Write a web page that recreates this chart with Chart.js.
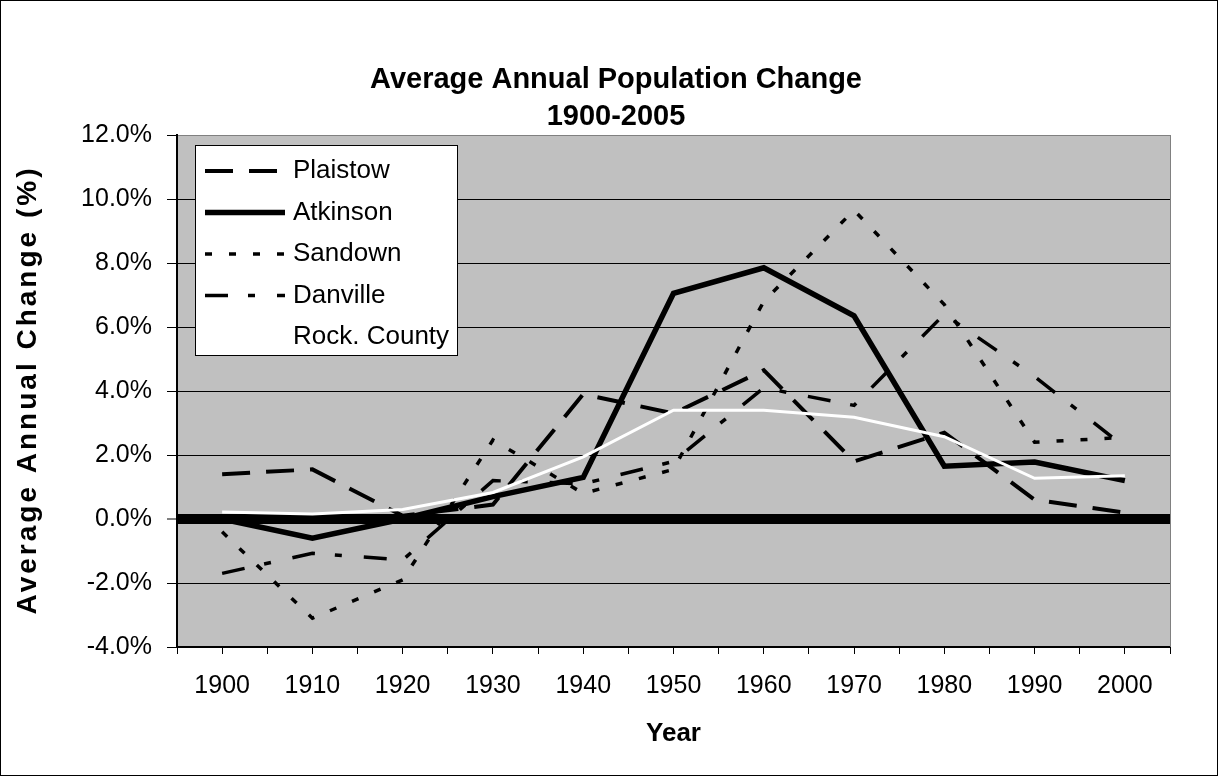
<!DOCTYPE html>
<html>
<head>
<meta charset="utf-8">
<script src="https://cdn.jsdelivr.net/npm/chart.js@4.4.1/dist/chart.umd.min.js"></script>
<style>
  html, body { margin: 0; padding: 0; background: #fff; }
  #wrap { width: 1216px; height: 774px; border: 1px solid #000; }
  canvas { display: block; }
</style>
</head>
<body>
<div id="wrap"><canvas id="chart" width="1216" height="774"></canvas></div>
<script>
// values, in percent
const years = [1900, 1910, 1920, 1930, 1940, 1950, 1960, 1970, 1980, 1990, 2000];
const plaistow = [1.4, 1.55, 0.1, 0.45, 3.9, 3.3, 4.65, 1.8, 2.7, 0.6, 0.2];
const atkinson = [0.0, -0.6, 0.0, 0.7, 1.3, 7.05, 7.85, 6.35, 1.65, 1.78, 1.2];
const sandown = [-0.4, -3.1, -1.9, 2.47, 0.8, 1.55, 6.8, 9.65, 6.7, 2.4, 2.55];
const danville = [-1.7, -1.07, -1.28, 1.2, 1.1, 1.8, 4.1, 3.55, 6.4, 4.45, 2.25];
const rockCounty = [0.22, 0.16, 0.3, 0.83, 1.94, 3.4, 3.4, 3.18, 2.57, 1.27, 1.35];

const yTicks = [-4, -2, 0, 2, 4, 6, 8, 10, 12];

const titleLines = ['Average Annual Population Change', '1900-2005'];
const yTitleText = 'Average Annual Change (%)';

const FONT = '"Liberation Sans", Arial, sans-serif';
Chart.defaults.font.family = FONT;
Chart.defaults.color = '#000';

function pts(vals) {
    return years.map((yr, i) => ({x: yr, y: vals[i]}));
}

// gray plot area + gray frame on the right
const plotBg = {
    id: 'plotBg',
    beforeDraw(chart) {
        const {ctx, chartArea: a} = chart;
        ctx.save();
        ctx.fillStyle = '#c0c0c0';
        ctx.fillRect(a.left, a.top, a.right - a.left, a.bottom - a.top);
        ctx.restore();
    },
    beforeDatasetsDraw(chart) {
        const {ctx, chartArea: a} = chart;
        ctx.save();
        ctx.strokeStyle = '#808080';
        ctx.lineWidth = 1;
        ctx.beginPath();
        ctx.moveTo(a.right + 0.5, a.top);
        ctx.lineTo(a.right + 0.5, a.bottom);
        ctx.stroke();
        ctx.restore();
    }
};

// chart title (centred on the whole picture) and the y axis title
const titles = {
    id: 'titles',
    afterDraw(chart) {
        const {ctx, chartArea: a} = chart;
        ctx.save();
        ctx.fillStyle = '#000';
        ctx.textAlign = 'center';
        ctx.textBaseline = 'middle';
        ctx.font = 'bold 29px ' + FONT;
        titleLines.forEach((t, i) => ctx.fillText(t, 615, 79 + i * 37));

        ctx.translate(27, (a.top + a.bottom) / 2);
        ctx.rotate(-Math.PI / 2);
        ctx.font = 'bold 28px ' + FONT;
        ctx.letterSpacing = '3px';
        ctx.fillText(yTitleText, 1, 0);
        ctx.restore();
    }
};

// legend box sitting inside the plot, top left
const boxLegend = {
    id: 'boxLegend',
    afterDraw(chart) {
        const {ctx, chartArea: a} = chart;
        const x = a.left + 18, y = a.top + 10, w = 262, h = 210;
        ctx.save();
        ctx.fillStyle = '#fff';
        ctx.fillRect(x, y, w, h);
        ctx.strokeStyle = '#000';
        ctx.lineWidth = 1;
        ctx.strokeRect(x + 0.5, y + 0.5, w, h);
        ctx.font = '26px ' + FONT;
        ctx.textBaseline = 'middle';
        chart.data.datasets.forEach((ds, i) => {
            const cy = y + 26 + i * 41.5;
            ctx.strokeStyle = ds.borderColor;
            ctx.lineWidth = ds.borderWidth;
            ctx.lineCap = 'butt';
            ctx.setLineDash(ds.borderDash || []);
            ctx.beginPath();
            ctx.moveTo(x + 10, cy);
            ctx.lineTo(x + 90, cy);
            ctx.stroke();
            ctx.setLineDash([]);
            ctx.fillStyle = '#000';
            ctx.fillText(ds.label, x + 98, cy);
        });
        ctx.restore();
    }
};

new Chart(document.getElementById('chart'), {
    type: 'line',
    data: {
        datasets: [
            {label: 'Plaistow', data: pts(plaistow), borderColor: '#000', borderWidth: 4, borderDash: [28, 16], order: 2},
            {label: 'Atkinson', data: pts(atkinson), borderColor: '#000', borderWidth: 5.5, order: 1},
            {label: 'Sandown', data: pts(sandown), borderColor: '#000', borderWidth: 3.5, borderDash: [7, 17], order: 4},
            {label: 'Danville', data: pts(danville), borderColor: '#000', borderWidth: 3.5, borderDash: [23, 20, 7, 22], order: 3},
            {label: 'Rock. County', data: pts(rockCounty), borderColor: '#fff', borderWidth: 3, order: 0}
        ]
    },
    options: {
        responsive: false,
        animation: false,
        layout: {padding: {left: 0, right: 47, top: 134, bottom: 0}},
        elements: {
            point: {radius: 0},
            line: {tension: 0, borderCapStyle: 'butt', borderJoinStyle: 'miter'}
        },
        plugins: {
            legend: {display: false},
            tooltip: {enabled: false},
            title: {display: false}
        },
        scales: {
            x: {
                type: 'linear',
                min: 1895,
                max: 2005,
                afterBuildTicks(scale) {
                    const t = [];
                    for (let v = 1895; v <= 2005; v += 5) t.push({value: v});
                    scale.ticks = t;
                },
                afterFit(scale) { scale.height = 128; },
                grid: {drawOnChartArea: false, drawTicks: true, tickLength: 7, color: '#000', lineWidth: 1},
                border: {color: '#000', width: 2},
                ticks: {
                    autoSkip: false,
                    maxRotation: 0,
                    padding: 17,
                    font: {size: 25},
                    callback: v => (v % 10 === 0 ? String(v) : '')
                },
                title: {display: true, text: 'Year', font: {size: 26, weight: 'bold'}, padding: {top: 0, bottom: 26}}
            },
            y: {
                min: -4,
                max: 12,
                afterBuildTicks(scale) {
                    scale.ticks = yTicks.map(v => ({value: v}));
                },
                afterFit(scale) { scale.width = 176; },
                grid: {
                    color: c => (c.tick && c.tick.value === 12 ? '#808080' : '#000'),
                    lineWidth: c => (c.tick && c.tick.value === 0 ? 10 : 1),
                    tickWidth: 1,
                    tickColor: '#000',
                    tickLength: 10
                },
                border: {color: '#000', width: 2},
                ticks: {
                    padding: 15,
                    font: {size: 25},
                    callback: v => v.toFixed(1) + '%'
                }
            }
        }
    },
    plugins: [plotBg, titles, boxLegend]
});
</script>
</body>
</html>
